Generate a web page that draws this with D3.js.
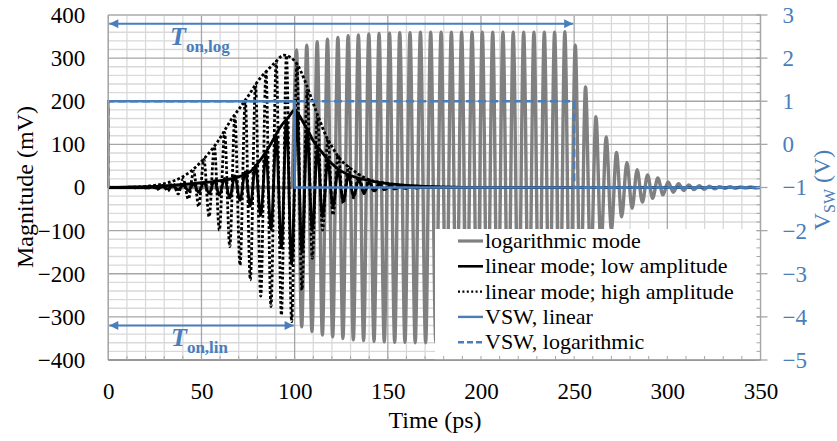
<!DOCTYPE html>
<html><head><meta charset="utf-8">
<script src="https://cdn.jsdelivr.net/npm/d3@7"></script>
<style>
body{margin:0;background:#fff}
text{font-family:"Liberation Serif","Times New Roman",serif}
</style></head><body>
<svg id="c" width="837" height="441"></svg>
<script>
// ---------- data ----------
const xTicks = [0,50,100,150,200,250,300,350];
const yTicks = [-400,-300,-200,-100,0,100,200,300,400];
const y2Ticks = [-5,-4,-3,-2,-1,0,1,2,3];
const legendLabels = ["logarithmic mode","linear mode; low amplitude","linear mode; high amplitude","VSW, linear","VSW, logarithmic"];

// logarithmic mode: [time ps, mV] at extrema
const logMode = [[0,0],[98.3,0],[101.0,319],[103.8,-323],[106.5,330],[109.3,-334],[112.1,338],[114.9,-342],[117.6,344],[120.4,-346],[123.2,348],[125.9,-350],[128.7,352],[131.5,-353],[134.2,354],[137.0,-355],[139.8,356],[142.6,-357],[145.3,357],[148.1,-358],[150.9,358],[153.7,-359],[156.4,359],[159.2,-359],[161.9,359],[164.7,-360],[167.5,360],[170.3,-360],[173.0,360],[175.8,-360],[178.6,360],[181.3,-360],[184.1,360],[186.9,-360],[189.6,360],[192.4,-360],[195.2,360],[198.0,-360],[200.7,360],[203.5,-360],[206.3,360],[209.0,-360],[211.8,360],[214.6,-360],[217.3,360],[220.1,-360],[222.9,360],[225.7,-360],[228.4,360],[231.2,-360],[234.0,360],[236.7,-360],[239.5,360],[242.3,-360],[245.0,361],[247.8,-352],[250.6,330],[253.4,-290],[256.1,233],[258.9,-200],[261.7,164],[264.4,-140],[267.2,117],[270.0,-98],[272.7,81],[275.5,-68],[278.3,58],[281.1,-48],[283.8,41],[286.6,-34],[289.4,29],[292.1,-25],[294.9,22],[297.7,-17],[300.4,13],[303.2,-11],[306.0,9],[308.8,-7],[311.5,6],[314.3,-5],[317.1,4],[319.8,-4],[322.6,3],[325.4,-3],[328.1,2],[330.9,-2],[333.7,2],[336.5,-2],[339.2,1],[342.0,-1],[344.8,1],[347.5,-1],[350,0]];

// linear mode, low amplitude
const linLow = [[0,0],[18.0,0],[20.8,-1],[23.6,1],[26.4,-2],[29.2,2],[31.9,-3],[34.7,3],[37.5,-5],[40.2,5],[43.0,-7],[45.8,8],[48.5,-11],[51.3,12],[54.1,-14],[56.9,16],[59.6,-18],[62.4,21],[65.2,-24],[67.9,27],[70.7,-30],[73.5,36],[76.2,-43],[79.0,52],[81.8,-65],[84.6,80],[87.3,-98],[90.1,118],[92.9,-140],[95.6,158],[98.4,-178],[101.2,172],[103.9,-150],[106.7,128],[109.5,-100],[112.2,88],[115.0,-68],[117.8,60],[120.6,-44],[123.3,40],[126.1,-32],[128.9,28],[131.6,-21],[134.4,18],[137.2,-13],[139.9,12],[142.7,-8],[145.5,7],[148.3,-5],[151.0,4],[153.8,-3],[156.6,2],[159.3,-2],[162.1,1],[164.9,-1],[170,0],[350,0]];
const linLowEnvelope = [[0,0],[10,1],[20,2],[30,4],[40,7],[50,11],[60,16],[67,21],[72,28],[76,36],[80,55],[85,85],[88.4,110],[92,138],[97,165],[100,180],[102,170],[105,148],[108,125],[110,108],[115,80],[120,55],[125,38],[130,28],[140,16],[150,9],[160,5],[175,2],[190,0.5],[200,0],[350,0]];

// linear mode, high amplitude
const linHigh = [[0,0],[12.5,0],[15.3,-1],[18.1,1],[20.8,-2],[23.6,2],[26.4,-4],[29.2,5],[31.9,-8],[34.7,10],[37.5,-15],[40.2,20],[43.0,-27],[45.8,38],[48.5,-44],[51.3,65],[54.1,-68],[56.9,95],[59.6,-99],[62.4,128],[65.2,-137],[67.9,165],[70.7,-180],[73.5,203],[76.2,-214],[79.0,238],[81.8,-252],[84.6,268],[87.3,-276],[90.1,292],[92.9,-296],[95.6,306],[98.4,-311],[101.2,285],[103.9,-238],[106.7,225],[109.5,-164],[112.2,165],[115.0,-99],[117.8,112],[120.6,-64],[123.3,75],[126.1,-37],[128.9,48],[131.6,-24],[134.4,30],[137.2,-14],[139.9,18],[142.7,-9],[145.5,11],[148.3,-6],[151.0,7],[153.8,-4],[156.6,4],[159.3,-2],[162.1,2],[164.9,-1],[170,0],[350,0]];
const linHighEnvelope = [[0,0],[15,1],[22,3.5],[31,10],[40,25],[49,56],[58,102],[67,164],[71,187],[76,218],[80,245],[85,270],[90,292],[94,307],[98,301],[101,288],[106,242],[110,195],[113.5,155],[117,118],[120,95],[124,68],[131,41],[140,18],[149,10],[158,5],[170,2],[185,0],[350,0]];

// switch voltages [time ps, V]
const vswLinear = [[0,-1],[0,1],[100,1],[100,-1],[350,-1]];
const vswLog = [[0,-1],[0,1],[250,1],[250,-1],[350,-1]];

// T_on annotations [start ps, end ps, level mV]
const tonLog = [0,250,380];
const tonLin = [0,100,-320];

// ---------- drawing ----------
const svg = d3.select("#c");
const L=108.3, R=760.5, T=15, B=360;
const x = d3.scaleLinear().domain([0,350]).range([L,R]);
const y = d3.scaleLinear().domain([-400,400]).range([B,T]);
const y2 = d3.scaleLinear().domain([-5,3]).range([B,T]);
const blue = "#4a7ebb", gray = "#808080";

// gridlines
const g = svg.append("g");
d3.range(0,351,10).forEach(v=>{ if(v%50) g.append("line").attr("x1",x(v)).attr("x2",x(v)).attr("y1",T).attr("y2",B).attr("stroke","#d9d9d9").attr("stroke-width",1.3);});
d3.range(-400,401,20).forEach(v=>{ if(v%100) g.append("line").attr("y1",y(v)).attr("y2",y(v)).attr("x1",L).attr("x2",R).attr("stroke","#d9d9d9").attr("stroke-width",1.3);});
xTicks.forEach(v=>g.append("line").attr("x1",x(v)).attr("x2",x(v)).attr("y1",T).attr("y2",B).attr("stroke","#a6a6a6").attr("stroke-width",1.3));
yTicks.forEach(v=>g.append("line").attr("y1",y(v)).attr("y2",y(v)).attr("x1",L).attr("x2",R).attr("stroke","#a6a6a6").attr("stroke-width",1.3));

svg.append("clipPath").attr("id","clip").append("rect").attr("x",L-2).attr("y",T-2).attr("width",R-L+4).attr("height",B-T+4);
const plot = svg.append("g").attr("clip-path","url(#clip)");

const line = d3.line().x(d=>x(d[0])).y(d=>y(d[1])).curve(d3.curveMonotoneX);
const line2 = d3.line().x(d=>x(d[0])).y(d=>y2(d[1]));

plot.append("path").attr("d",line(logMode)).attr("fill","none").attr("stroke",gray).attr("stroke-width",3.4);
plot.append("path").attr("d",line(linLow)).attr("fill","none").attr("stroke","#000").attr("stroke-width",2.8);
plot.append("path").attr("d",line(linLowEnvelope)).attr("fill","none").attr("stroke","#000").attr("stroke-width",2.8);
plot.append("path").attr("d",line(linHigh)).attr("fill","none").attr("stroke","#000").attr("stroke-width",2.8).attr("stroke-dasharray","2.8,2.2");
plot.append("path").attr("d",line(linHighEnvelope)).attr("fill","none").attr("stroke","#000").attr("stroke-width",2.8).attr("stroke-dasharray","2.8,2.2");
plot.append("path").attr("d",line2(vswLog)).attr("fill","none").attr("stroke",blue).attr("stroke-width",2.6).attr("stroke-dasharray","8,4");
plot.append("path").attr("d",line2(vswLinear)).attr("fill","none").attr("stroke",blue).attr("stroke-width",2.6);

// arrows
const defs = svg.append("defs");
defs.append("marker").attr("id","ah").attr("viewBox","0 0 10 10").attr("refX",10).attr("refY",5)
  .attr("markerWidth",5).attr("markerHeight",4.5).attr("markerUnits","strokeWidth").attr("orient","auto-start-reverse")
  .append("path").attr("d","M0,0L10,5L0,10Z").attr("fill",blue);
[tonLog,tonLin].forEach(a=>{
  svg.append("line").attr("x1",x(a[0])+1).attr("x2",x(a[1])-1).attr("y1",y(a[2])).attr("y2",y(a[2]))
    .attr("stroke",blue).attr("stroke-width",2).attr("marker-start","url(#ah)").attr("marker-end","url(#ah)");
});
function tlabel(px,py,sub){
  const t = svg.append("text").attr("x",px).attr("y",py).attr("fill",blue).attr("font-weight","bold");
  t.append("tspan").text("T").attr("font-style","italic").attr("font-size",26);
  t.append("tspan").text(sub).attr("font-size",17).attr("dy",7);
}
tlabel(170,45,"on,log");
tlabel(171,346,"on,lin");

// legend
const lg = svg.append("g");
lg.append("rect").attr("x",435).attr("y",229).attr("width",R-435).attr("height",B-229).attr("fill","#fff");
const styles = [{c:gray,w:3.2,d:null},{c:"#000",w:2.6,d:null},{c:"#000",w:2.2,d:"2,2.4"},{c:blue,w:2.4,d:null},{c:blue,w:2.4,d:"6,3"}];
legendLabels.forEach((lab,i)=>{
  const ry = 241 + i*25.3;
  const s = styles[i];
  const ln = lg.append("line").attr("x1",458).attr("x2",483).attr("y1",ry).attr("y2",ry).attr("stroke",s.c).attr("stroke-width",s.w);
  if(s.d) ln.attr("stroke-dasharray",s.d);
  lg.append("text").attr("x",485).attr("y",ry+7).attr("font-size",22).attr("fill","#000").text(lab);
});

// plot border / axes lines
svg.append("line").attr("x1",L).attr("x2",R).attr("y1",T).attr("y2",T).attr("stroke","#bfbfbf").attr("stroke-width",1.3);
svg.append("line").attr("x1",L).attr("x2",L).attr("y1",T).attr("y2",B).attr("stroke","#a6a6a6").attr("stroke-width",1.3);
svg.append("line").attr("x1",R).attr("x2",R).attr("y1",T).attr("y2",B).attr("stroke","#a6a6a6").attr("stroke-width",1.3);
svg.append("line").attr("x1",L).attr("x2",R).attr("y1",B).attr("y2",B).attr("stroke","#8c8c8c").attr("stroke-width",1.5);
// minor ticks
d3.range(10,350,10).forEach(v=>svg.append("line").attr("x1",x(v)).attr("x2",x(v)).attr("y1",B).attr("y2",B-4).attr("stroke","#a6a6a6").attr("stroke-width",1));
d3.range(-5,3.01,0.2).forEach(v=>svg.append("line").attr("x1",R-4).attr("x2",R).attr("y1",y2(v)).attr("y2",y2(v)).attr("stroke","#a6a6a6").attr("stroke-width",1));
y2Ticks.forEach(v=>svg.append("line").attr("x1",R-4).attr("x2",R+7).attr("y1",y2(v)).attr("y2",y2(v)).attr("stroke","#a6a6a6").attr("stroke-width",1.3));

// axes labels
const ax = svg.append("g").attr("transform",`translate(0,${B})`).call(d3.axisBottom(x).tickValues(xTicks).tickSize(0).tickPadding(23));
const ay = svg.append("g").attr("transform",`translate(${L},0)`).call(d3.axisLeft(y).tickValues(yTicks).tickSize(0).tickPadding(23));
const ay2 = svg.append("g").attr("transform",`translate(${R},0)`).call(d3.axisRight(y2).tickValues(y2Ticks).tickSize(0).tickPadding(22));
[ax,ay,ay2].forEach(a=>{a.select(".domain").remove(); a.attr("font-family",null); a.selectAll("text").attr("font-size",23);});
ax.selectAll("text").attr("fill","#000");
ay.selectAll("text").attr("fill","#000");
ay2.selectAll("text").attr("fill",blue);

svg.append("text").attr("x",435).attr("y",428).attr("text-anchor","middle").attr("font-size",24).text("Time (ps)");
svg.append("text").attr("transform","translate(33,187) rotate(-90)").attr("text-anchor","middle").attr("font-size",24).text("Magnitude (mV)");
const rt = svg.append("text").attr("transform","translate(830,190) rotate(-90)").attr("text-anchor","middle").attr("font-size",24).attr("fill",blue);
rt.append("tspan").text("V");
rt.append("tspan").text("SW").attr("font-size",16).attr("dy",5);
rt.append("tspan").text(" (V)").attr("dy",-5);
</script></body></html>
